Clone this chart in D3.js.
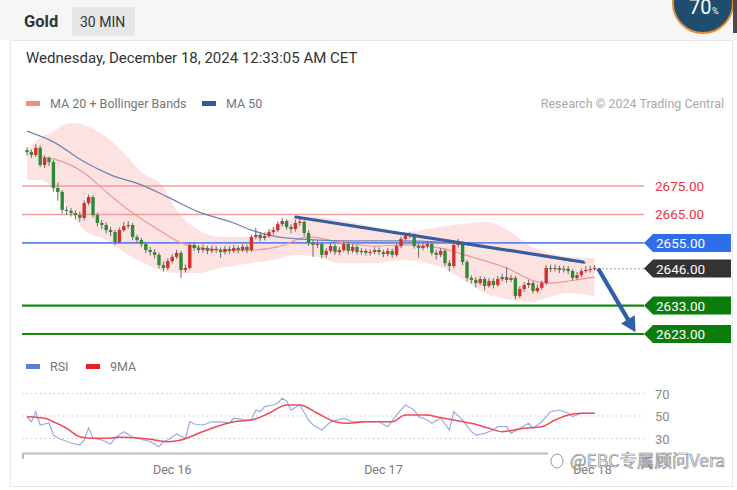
<!DOCTYPE html>
<html><head><meta charset="utf-8">
<script src="https://cdn.jsdelivr.net/npm/d3@7"></script>
<style>body{margin:0;background:#fff;} svg{display:block;font-family:Roboto,"Noto Sans",Arial,sans-serif;}</style>
</head><body><svg id="c" width="737" height="490"></svg>
<script>
// ---------- DATA ----------
const firstOpen = 2687.6;
const closes = [2686.9,2685.9,2688.4,2682.4,2684.8,2683.4,2674.3,2672.9,2666.6,2666.3,
2665.5,2664.8,2663.8,2669.0,2671.1,2664.8,2662.0,2661.3,2659.5,2658.8,
2655.3,2659.5,2660.9,2661.3,2657.1,2656.0,2654.6,2652.5,2651.8,2650.8,
2647.2,2646.2,2648.6,2650.1,2651.5,2645.5,2646.2,2654.3,2653.2,2652.5,
2653.2,2652.2,2652.9,2652.5,2651.8,2652.9,2652.2,2653.2,2652.5,2653.6,
2652.5,2657.1,2657.8,2656.7,2657.4,2658.8,2659.5,2661.6,2662.7,2660.6,
2659.9,2662.0,2662.4,2658.5,2655.0,2654.3,2654.6,2650.8,2652.2,2653.9,
2651.8,2652.5,2654.6,2652.2,2653.6,2651.8,2652.2,2651.5,2651.8,2652.5,
2651.8,2651.1,2652.2,2650.8,2653.9,2656.4,2657.4,2657.8,2653.9,2653.2,
2653.9,2654.6,2651.5,2650.8,2652.2,2647.9,2646.9,2654.3,2655.0,2648.3,
2642.7,2642.0,2640.9,2642.3,2639.9,2641.6,2640.2,2642.3,2643.0,2642.0,
2642.7,2636.3,2638.8,2640.2,2640.9,2638.1,2639.2,2640.9,2646.2,2645.8,
2646.2,2645.5,2645.9,2645.1,2642.7,2643.7,2645.1,2645.5,2645.8,2646.2];
const highs = [2688.6,2687.8,2689.6,2689.2,2685.8,2685.4,2684.2,2676.2,2673.6,2667.8,
2667.2,2666.4,2666.0,2669.9,2672.0,2671.8,2665.6,2663.1,2662.2,2660.6,
2659.6,2660.4,2662.3,2662.6,2662.0,2657.9,2656.8,2655.4,2653.6,2652.8,
2651.6,2648.4,2649.6,2651.0,2652.6,2652.2,2647.4,2655.2,2655.0,2654.2,
2654.4,2654.0,2654.0,2653.8,2653.4,2653.9,2653.8,2654.3,2654.0,2654.6,
2654.4,2657.9,2660.3,2658.6,2658.6,2659.9,2660.6,2662.6,2663.8,2663.4,
2661.5,2663.2,2663.6,2663.0,2659.4,2656.2,2655.6,2655.4,2653.2,2655.0,
2654.7,2653.6,2655.6,2655.3,2654.6,2654.2,2653.2,2653.0,2652.8,2653.5,
2653.4,2652.6,2653.2,2653.0,2654.8,2657.2,2658.4,2658.8,2658.4,2654.8,
2654.9,2655.6,2655.2,2652.4,2653.2,2652.8,2649.0,2655.2,2656.4,2655.6,
2649.0,2643.6,2643.0,2643.4,2643.0,2642.6,2642.6,2643.4,2644.2,2646.6,
2643.8,2643.4,2639.8,2641.2,2642.0,2641.6,2640.4,2641.8,2647.2,2647.4,
2647.4,2647.0,2647.0,2646.8,2645.8,2644.8,2646.0,2646.8,2647.0,2647.2];
const lows = [2685.8,2684.9,2685.2,2681.6,2681.4,2682.0,2673.0,2669.8,2665.4,2664.9,
2664.3,2663.2,2662.5,2662.9,2668.2,2663.9,2660.8,2659.8,2658.3,2657.4,
2654.2,2654.8,2658.9,2660.0,2656.0,2654.9,2653.5,2651.4,2650.6,2649.6,
2646.0,2645.0,2645.4,2647.8,2649.4,2642.7,2644.6,2645.6,2652.2,2651.4,
2651.6,2651.0,2651.4,2651.5,2649.8,2650.9,2651.2,2651.4,2651.3,2651.8,
2651.4,2651.8,2656.3,2655.6,2655.9,2656.8,2657.9,2658.9,2660.8,2659.7,
2658.4,2659.0,2661.0,2657.4,2653.9,2650.1,2653.2,2649.6,2649.8,2651.4,
2650.8,2650.9,2651.8,2651.0,2651.4,2650.9,2650.9,2650.6,2650.5,2651.0,
2650.8,2650.0,2650.3,2649.8,2650.2,2653.2,2655.8,2656.6,2653.0,2649.8,
2652.4,2653.0,2650.6,2649.2,2650.0,2646.8,2645.0,2646.2,2653.4,2647.2,
2641.6,2640.8,2639.4,2640.2,2638.4,2639.2,2639.0,2639.6,2641.6,2641.0,
2641.2,2635.2,2635.6,2637.8,2639.2,2637.2,2637.4,2638.6,2640.2,2644.8,
2645.0,2644.4,2644.6,2644.0,2641.8,2642.0,2642.9,2644.4,2644.6,2645.2];

const ma20 = [[3,2685.2],[7,2684.1],[13,2679.6],[18,2672.9],[24,2665.5],[30,2659.5],[35,2655.0],[40,2653.2],[46,2652.5],[51,2652.5],[57,2653.6],[64,2657.1],[71,2655.3],[79,2653.9],[86,2654.3],[94,2653.2],[101,2650.1],[109,2646.2],[116,2641.3],[119,2640.9],[124,2641.8],[129,2643.0]];
const ma50 = [[0,2694.3],[6,2690.5],[13,2683.5],[19,2678.9],[26,2675.4],[32,2671.1],[39,2665.9],[47,2662.0],[51,2659.5],[57,2657.1],[66,2656.0],[76,2655.7],[85,2655.7],[94,2655.3],[103,2653.9],[112,2651.8],[121,2649.3],[127,2647.9]];
const bbIdx   = [0,3,6,10,13,18,22,26,31,34,39,44,51,56,61,66,71,79,85,94,101,104,110,114,118,123,129];
const bbUpper = [2687.6,2691.9,2694.3,2697.1,2696.4,2692.2,2686.6,2679.9,2674.6,2666.6,2659.5,2657.1,2657.1,2660.2,2663.8,2664.1,2663.1,2660.6,2658.8,2660.6,2662.0,2662.4,2658.8,2654.3,2651.8,2650.1,2649.7];
const bbLower = [2677.1,2677.1,2674.3,2665.9,2659.5,2656.0,2651.8,2648.3,2645.1,2644.4,2644.4,2646.2,2647.9,2649.0,2650.8,2650.1,2647.9,2647.9,2649.0,2646.5,2640.2,2637.4,2635.0,2634.2,2635.6,2637.4,2636.3];

const trendLine = [[61.1,2664.1],[126.4,2648.3]];
const arrowPath = [[129.8,2646.0],[138.3,2623.6]];

const levelValues = [2675, 2665, 2655, 2646, 2633, 2623];
const levelKinds  = ["res","res","blue","last","sup","sup"];

const rsi = [[0,49.1],[1,44.7],[2,53.8],[3,42],[5,43.8],[6,33.1],[7,30.4],[10,26],[12,24.2],[13,28.7],[14,39.3],[15,30.4],[17,28.7],[19,25.1],[20,30.4],[22,36.1],[24,31.3],[28,27.2],[30,22.7],[31,27.2],[32,28.7],[34,34],[36,30.2],[37,44.9],[38,42.9],[40,42],[42,44.9],[44,44.7],[46,43.8],[47,48],[50,46.4],[51,46.4],[52,55.3],[53,53.8],[54,58.3],[56,59.8],[57,61.6],[58,65.7],[59,63.3],[60,55.3],[61,57.6],[62,59.8],[64,46.4],[65,42],[67,37.6],[69,44.9],[72,47.9],[74,44.9],[77,44.9],[80,44.9],[82,40.5],[84,50.9],[86,59.8],[88,55.3],[89,49.4],[91,46.4],[92,43.5],[94,48],[96,37.6],[97,53.8],[99,46.4],[101,36.1],[102,33.1],[104,34.6],[106,37.6],[107,40.5],[109,40.5],[110,34.6],[112,39.1],[114,43.5],[115,39.1],[117,44.9],[119,53.8],[121,55.3],[123,52.4],[124,49.4],[126,52.4],[127,52.4],[129,52.4]];
const rsiMA = [[0,49.4],[4,48],[6,44.9],[9,39.1],[12,31.6],[15,30.2],[18,30.2],[21,31.1],[26,30.2],[29,28.7],[32,27.2],[35,28.7],[39,34.6],[43,40.5],[47,44.9],[51,46.4],[55,52.4],[59,59.8],[62,59.8],[66,52.4],[70,44.9],[73,43.5],[77,44.9],[83,44.9],[86,50.9],[91,50.9],[93,49.4],[97,46.4],[101,43.5],[105,39.1],[108,36.1],[113,39.1],[117,40.5],[120,46.4],[123,50.9],[126,52.4],[129,52.4]];
const rsiTicks = [70, 50, 30];
const dayTickIdx = [33, 81, 128.5];
const dayTickLabels = ["Dec 16", "Dec 17", "Dec 18"];

// ---------- SCALES ----------
const svg = d3.select("#c");
const x = d3.scaleLinear().domain([0, 129]).range([27, 594.6]);
const y = d3.scaleLinear().domain([2623, 2675]).range([334, 186]);
const yr = d3.scaleLinear().domain([30, 70]).range([438.5, 393.5]);
const L = 22, R = 644;

// ---------- FRAME ----------
svg.append("rect").attr("x",0).attr("y",0).attr("width",737).attr("height",40).attr("fill","#f6f6f6");
svg.append("rect").attr("x",10.5).attr("y",40.5).attr("width",722).attr("height",446).attr("fill","#fff").attr("stroke","#e8e8e8");
svg.append("text").attr("x",24).attr("y",27).attr("font-size",16.5).attr("font-weight","bold").attr("fill","#333").text("Gold");
svg.append("rect").attr("x",72).attr("y",7).attr("width",63).attr("height",29).attr("fill","#e6e7ea");
svg.append("text").attr("x",80).attr("y",27).attr("font-size",14).attr("fill","#333").text("30 MIN");
// badge
svg.append("circle").attr("cx",703).attr("cy",3).attr("r",30).attr("fill","#1f4d6e").attr("stroke","#e38b33").attr("stroke-width",2);
svg.append("rect").attr("x",733).attr("y",0).attr("width",4).attr("height",33).attr("fill","#4a4a4a");
svg.append("text").attr("x",689).attr("y",14).attr("font-size",20).attr("fill","#fff").text("70");
svg.append("text").attr("x",712).attr("y",14).attr("font-size",9).attr("fill","#fff").text("%");

svg.append("text").attr("x",26).attr("y",63).attr("font-size",15).attr("fill","#333").text("Wednesday, December 18, 2024 12:33:05 AM CET");

// legend
svg.append("rect").attr("x",26).attr("y",101).attr("width",14).attr("height",5).attr("fill","#f38b8b");
svg.append("text").attr("x",50).attr("y",108).attr("font-size",12.5).attr("fill","#777").text("MA 20 + Bollinger Bands");
svg.append("rect").attr("x",202).attr("y",101).attr("width",14).attr("height",5).attr("fill","#2f5a9e");
svg.append("text").attr("x",226).attr("y",108).attr("font-size",12.5).attr("fill","#777").text("MA 50");
svg.append("text").attr("x",724).attr("y",108).attr("text-anchor","end").attr("font-size",12.5).attr("fill","#a9a9a9").text("Research © 2024 Trading Central");

// ---------- PRICE PANEL ----------
const bbData = bbIdx.map((d,i)=>({i:d,u:bbUpper[i],l:bbLower[i]}));
svg.append("path").datum(bbData)
  .attr("d", d3.area().x(d=>x(d.i)).y0(d=>y(d.l)).y1(d=>y(d.u)).curve(d3.curveMonotoneX))
  .attr("fill","#fde2e2");

// horizontal levels
const lvColor = {res:"#f39a9a", blue:"#5f86ee", sup:"#108a10", last:"#999"};
levelValues.forEach((v,k)=>{
  const kind = levelKinds[k];
  if (kind === "last") {
    svg.append("line").attr("x1",x(129.8)).attr("x2",R).attr("y1",y(v)).attr("y2",y(v))
      .attr("stroke","#999").attr("stroke-width",1.2).attr("stroke-dasharray","1.5,2.5");
  } else {
    svg.append("line").attr("x1",L).attr("x2",R).attr("y1",y(v)).attr("y2",y(v))
      .attr("stroke",lvColor[kind]).attr("stroke-width", kind==="sup"?2.2:(kind==="blue"?1.6:1.4));
  }
});

// MA lines
svg.append("path").datum(ma20).attr("d", d3.line().x(d=>x(d[0])).y(d=>y(d[1])).curve(d3.curveMonotoneX))
  .attr("fill","none").attr("stroke","#eb9a9a").attr("stroke-width",1.2);
svg.append("path").datum(ma50).attr("d", d3.line().x(d=>x(d[0])).y(d=>y(d[1])).curve(d3.curveMonotoneX))
  .attr("fill","none").attr("stroke","#7182ae").attr("stroke-width",1.2);

// candles
const bars = closes.map((c,i)=>({i, o: i===0?firstOpen:closes[i-1], c, h:highs[i], l:lows[i]}));
const cg = svg.append("g");
cg.selectAll("line.w").data(bars).join("line")
  .attr("x1",d=>x(d.i)).attr("x2",d=>x(d.i)).attr("y1",d=>y(d.h)).attr("y2",d=>y(d.l))
  .attr("stroke","#6a6a6a").attr("stroke-width",1);
cg.selectAll("rect").data(bars).join("rect")
  .attr("x",d=>x(d.i)-1.7).attr("width",3.4)
  .attr("y",d=>y(Math.max(d.o,d.c)))
  .attr("height",d=>Math.max(1, Math.abs(y(d.o)-y(d.c))))
  .attr("fill",d=>d.c>=d.o?"#d3302c":"#2f8a36");

// trend line
svg.append("line").attr("x1",x(trendLine[0][0])).attr("y1",y(trendLine[0][1]))
  .attr("x2",x(trendLine[1][0])).attr("y2",y(trendLine[1][1]))
  .attr("stroke","#3b5c9c").attr("stroke-width",3.2).attr("stroke-linecap","round");

// arrow
{
  const x0=x(arrowPath[0][0]), y0=y(arrowPath[0][1]), x1=x(arrowPath[1][0]), y1=y(arrowPath[1][1]);
  const dx=x1-x0, dy=y1-y0, len=Math.hypot(dx,dy), ux=dx/len, uy=dy/len;
  const hl=15, hw=8;
  const bx=x1-ux*hl, by=y1-uy*hl;
  svg.append("line").attr("x1",x0).attr("y1",y0).attr("x2",bx+ux*2).attr("y2",by+uy*2)
    .attr("stroke","#2f5fa9").attr("stroke-width",4.2);
  svg.append("path").attr("d",`M${x1},${y1}L${bx-uy*hw},${by+ux*hw}L${bx+uy*hw},${by-ux*hw}Z`).attr("fill","#2f5fa9");
}

// level labels
const tagFill = {blue:"#2f6eea", last:"#333333", sup:"#0b7d0b"};
levelValues.forEach((v,k)=>{
  const kind = levelKinds[k], yy = y(v);
  if (kind === "res") {
    svg.append("text").attr("x",655).attr("y",yy+4.5).attr("font-size",13.5).attr("fill","#e8333a").text(v.toFixed(2));
  } else {
    svg.append("path").attr("d",`M644,${yy}L653,${yy-9}L731,${yy-9}L731,${yy+9}L653,${yy+9}Z`).attr("fill",tagFill[kind]);
    svg.append("text").attr("x",656).attr("y",yy+5).attr("font-size",13.5).attr("fill","#fff").text(v.toFixed(2));
  }
});

// ---------- RSI PANEL ----------
svg.append("rect").attr("x",26).attr("y",364).attr("width",14).attr("height",5).attr("fill","#5b7fd8");
svg.append("text").attr("x",50).attr("y",371).attr("font-size",12.5).attr("fill","#777").text("RSI");
svg.append("rect").attr("x",86).attr("y",364).attr("width",14).attr("height",5).attr("fill","#e8201f");
svg.append("text").attr("x",110).attr("y",371).attr("font-size",12.5).attr("fill","#777").text("9MA");

rsiTicks.forEach(t=>{
  svg.append("line").attr("x1",L).attr("x2",R).attr("y1",yr(t)).attr("y2",yr(t))
    .attr("stroke","#c8c8c8").attr("stroke-width",1.2).attr("stroke-dasharray","1.5,3");
  svg.append("text").attr("x",655).attr("y",yr(t)+5).attr("font-size",13).attr("fill","#8a8a8a").text(t);
});
svg.append("path").datum(rsi).attr("d", d3.line().x(d=>x(d[0])).y(d=>yr(d[1])))
  .attr("fill","none").attr("stroke","#98ace6").attr("stroke-width",1.2);
svg.append("path").datum(rsiMA).attr("d", d3.line().x(d=>x(d[0])).y(d=>yr(d[1])).curve(d3.curveMonotoneX))
  .attr("fill","none").attr("stroke","#ef4a55").attr("stroke-width",1.5);

// x axis
svg.append("line").attr("x1",L).attr("x2",548).attr("y1",453.5).attr("y2",453.5).attr("stroke","#bdbdbd").attr("stroke-width",2);
svg.append("line").attr("x1",L+1).attr("x2",L+1).attr("y1",453).attr("y2",459).attr("stroke","#bdbdbd").attr("stroke-width",2);
dayTickIdx.forEach((d,k)=>{
  svg.append("text").attr("x",x(d)).attr("y",474).attr("text-anchor","middle").attr("font-size",12.5).attr("fill","#7a7a7a").text(dayTickLabels[k]);
});

// watermark
svg.append("ellipse").attr("cx",557).attr("cy",461).attr("rx",6).attr("ry",7).attr("fill","none").attr("stroke","#999").attr("stroke-width",1);
svg.append("text").attr("x",570).attr("y",467).attr("font-size",17.5)
  .attr("font-family","'Noto Sans CJK SC',sans-serif")
  .attr("fill","#fff").attr("fill-opacity",0.85).attr("stroke","#8a8a8a").attr("stroke-width",0.7)
  .text("@EBC专属顾问Vera");
</script></body></html>
